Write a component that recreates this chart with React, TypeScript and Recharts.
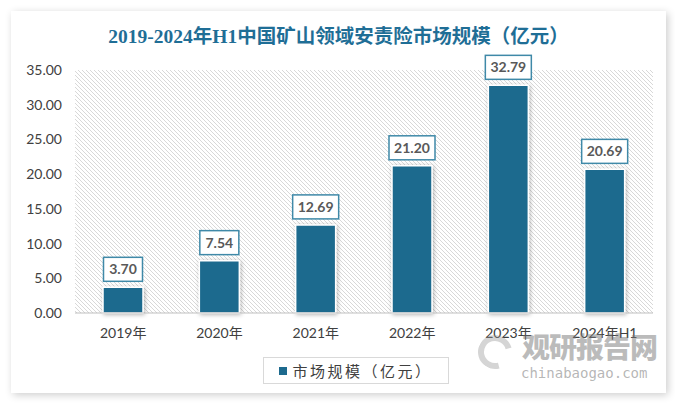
import React from "react";
import {
  BarChart,
  Bar,
  XAxis,
  YAxis,
  CartesianGrid,
  LabelList,
} from "recharts";

const categories = ["2019年", "2020年", "2021年", "2022年", "2023年", "2024年H1"];
const marketSize = [3.7, 7.54, 12.69, 21.2, 32.79, 20.69];
const yTicks = [0, 5, 10, 15, 20, 25, 30, 35];

const BAR = "#1d6a8e";
const BOX = "#3f89a8";
const TEXT = "#404040";

const data = categories.map((name, i) => ({ name, value: marketSize[i] }));

// 数据标签：带边框的白色小方框
const BoxLabel = (props: any) => {
  const { x, y, width, value } = props;
  const text = Number(value).toFixed(2);
  const w = text.length * 7 + 11;
  const h = 24;
  const cx = x + width / 2;
  const bottom = y - 6;
  return (
    <g>
      <rect
        x={cx - w / 2}
        y={bottom - h}
        width={w}
        height={h}
        fill="#fff"
        stroke={BOX}
        strokeWidth={1.5}
      />
      <text
        x={cx}
        y={bottom - h / 2}
        dy="0.36em"
        textAnchor="middle"
        fontFamily="Lato, 'Noto Sans', sans-serif"
        fontWeight={700}
        fontSize={14}
        fill="#595959"
      >
        {text}
      </text>
    </g>
  );
};

export default function App() {
  return (
    <div
      style={{
        position: "absolute",
        left: 0,
        top: 0,
        width: 675,
        height: 403,
        background: "#fff",
        overflow: "hidden",
      }}
    >
      <svg width={0} height={0} style={{ position: "absolute" }}>
        <defs>
          <pattern id="hatch" width={4} height={4} patternUnits="userSpaceOnUse">
            <rect width={4} height={4} fill="#fff" />
            <path
              d="M0,0 L4,4 M-1,3 L1,5 M3,-1 L5,1"
              stroke="#d8d8d8"
              strokeWidth={1}
            />
          </pattern>
          <filter id="barShadow" x="-30%" y="-10%" width="160%" height="130%">
            <feDropShadow dx={1} dy={1} stdDeviation={2} floodColor="#000" floodOpacity={0.3} />
          </filter>
        </defs>
      </svg>

      <div
        style={{
          position: "absolute",
          left: 11,
          top: 11,
          width: 655,
          height: 382,
          background: "#fff",
          boxShadow: "2px 2px 8px rgba(0,0,0,0.2)",
        }}
      />

      <div
        style={{
          position: "absolute",
          left: 11,
          width: 655,
          top: 24,
          textAlign: "center",
          fontFamily: "'Liberation Serif', 'Noto Sans CJK SC', serif",
          fontWeight: 700,
          fontSize: 19.5,
          color: "#1f6e96",
          lineHeight: "26px",
        }}
      >
        2019-2024年H1中国矿山领域安责险市场规模（亿元）
      </div>

      <div style={{ position: "absolute", left: 0, top: 0 }}>
        <BarChart
          width={675}
          height={403}
          data={data}
          margin={{ top: 70, right: 22, bottom: 0, left: 0 }}
          barSize={40}
        >
          <CartesianGrid
            horizontal={false}
            vertical={false}
            fill="url(#hatch)"
            fillOpacity={1}
          />
          <XAxis
            dataKey="name"
            height={90}
            tickLine={false}
            tickMargin={9}
            axisLine={{ stroke: "#bfbfbf" }}
            interval={0}
            tick={{
              fontSize: 14,
              fill: TEXT,
              fontFamily: "Lato, 'Noto Sans CJK SC', sans-serif",
            }}
          />
          <YAxis
            width={75}
            domain={[0, 35]}
            ticks={yTicks}
            interval={0}
            axisLine={false}
            tickLine={false}
            tickMargin={7}
            tickFormatter={(v: number) => v.toFixed(2)}
            tick={{
              fontSize: 14,
              fill: TEXT,
              fontFamily: "Lato, 'Noto Sans', sans-serif",
            }}
          />
          <Bar
            dataKey="value"
            fill={BAR}
            stroke="#fff"
            strokeWidth={1.5}
            filter="url(#barShadow)"
            isAnimationActive={false}
          >
            <LabelList dataKey="value" content={BoxLabel} />
          </Bar>
        </BarChart>
      </div>

      <div
        style={{
          position: "absolute",
          left: 263,
          top: 357,
          width: 186,
          height: 27,
          boxSizing: "border-box",
          border: "1px solid #d9d9d9",
          background: "#fff",
          display: "flex",
          alignItems: "center",
          justifyContent: "center",
          gap: 5,
          fontFamily: "'Noto Sans CJK SC', sans-serif",
          fontSize: 15,
          color: TEXT,
          letterSpacing: 2.5,
        }}
      >
        <span style={{ width: 8, height: 8, background: BAR, display: "inline-block" }} />
        <span>市场规模（亿元）</span>
      </div>

      <div
        style={{
          position: "absolute",
          left: 522,
          top: 330,
          fontFamily: "'Noto Sans CJK SC', sans-serif",
          fontWeight: 900,
          fontSize: 28,
          lineHeight: "32px",
          color: "rgba(120,120,120,0.5)",
          letterSpacing: -1,
        }}
      >
        观研报告网
      </div>
      <div
        style={{
          position: "absolute",
          left: 521,
          top: 364,
          fontFamily: "'DejaVu Sans Mono', monospace",
          fontSize: 14,
          lineHeight: "18px",
          color: "rgba(120,120,120,0.55)",
        }}
      >
        chinabaogao.com
      </div>
      <div
        style={{
          position: "absolute",
          left: 478,
          top: 335,
          width: 34,
          height: 34,
          borderRadius: "50%",
          border: "6px solid rgba(150,150,150,0.4)",
          borderRightColor: "transparent",
          boxSizing: "border-box",
          transform: "rotate(30deg)",
        }}
      />
    </div>
  );
}
